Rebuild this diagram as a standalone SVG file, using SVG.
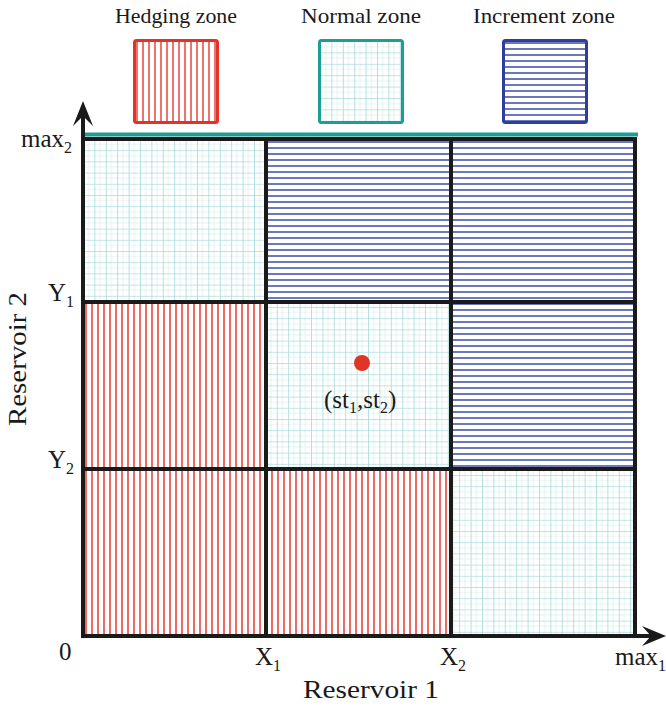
<svg xmlns="http://www.w3.org/2000/svg" width="666" height="706" viewBox="0 0 666 706">
<style>
text{font-family:"Liberation Serif","Times New Roman",serif;fill:#1a1a1a}
.lbl{font-size:25px}
.leg{font-size:21px}
.sub{font-size:16px}
.div{stroke:#1a1a1a;stroke-width:4;fill:none}
.cellb{stroke:#1a9e96;stroke-width:1}
</style>
<defs>
<pattern id="grid" patternUnits="userSpaceOnUse" width="11.4" height="11.2" x="83" y="139">
<rect width="11.4" height="11.2" fill="#fff"/>
<path d="M5.7 0V11.2M0 5.6H11.4" stroke="#e4f3f3" stroke-width="1"/>
<path d="M0 0V11.2M0 0H11.4" stroke="#a9dada" stroke-width="1.6"/>
</pattern>
<pattern id="red" patternUnits="userSpaceOnUse" width="6" height="10" x="83" y="0">
<rect width="6" height="10" fill="#fff"/>
<path d="M3 0V10" stroke="#e8463d" stroke-width="1.6"/>
</pattern>
<pattern id="blue" patternUnits="userSpaceOnUse" width="10" height="6" x="0" y="139">
<rect width="10" height="6" fill="#fff"/>
<path d="M0 3H10" stroke="#4656a8" stroke-width="1.6"/>
</pattern>
<pattern id="redL" patternUnits="userSpaceOnUse" width="6" height="10" x="134" y="0">
<rect width="6" height="10" fill="#fff"/>
<path d="M3 0V10" stroke="#e8463d" stroke-width="1.5"/>
</pattern>
<pattern id="blueL" patternUnits="userSpaceOnUse" width="10" height="6" x="0" y="40">
<rect width="10" height="6" fill="#fff"/>
<path d="M0 3H10" stroke="#4656a8" stroke-width="1.6"/>
</pattern>
<pattern id="gridL" patternUnits="userSpaceOnUse" width="11.4" height="11.4" x="320" y="41">
<rect width="11.4" height="11.4" fill="#fff"/>
<path d="M5.7 0V11.4M0 5.7H11.4" stroke="#e4f3f3" stroke-width="1"/>
<path d="M0 0V11.4M0 0H11.4" stroke="#a9dada" stroke-width="1.6"/>
</pattern>
</defs>

<g id="legend">
<g id="legend-hedging">
<rect x="134.5" y="40.5" width="83" height="82" rx="2" fill="url(#redL)" stroke="#e03428" stroke-width="3"/>
<text class="leg" x="176" y="23" text-anchor="middle" textLength="122" lengthAdjust="spacingAndGlyphs">Hedging zone</text>
</g>
<g id="legend-normal">
<rect x="319.5" y="40.5" width="83" height="82" rx="2" fill="url(#gridL)" stroke="#1a9e96" stroke-width="3"/>
<text class="leg" x="361" y="23" text-anchor="middle" textLength="120" lengthAdjust="spacingAndGlyphs">Normal zone</text>
</g>
<g id="legend-increment">
<rect x="503.5" y="40.5" width="83" height="82" rx="2" fill="url(#blueL)" stroke="#2d3f9c" stroke-width="3"/>
<text class="leg" x="544" y="23" text-anchor="middle" textLength="142" lengthAdjust="spacingAndGlyphs">Increment zone</text>
</g>
</g>

<g id="cells">
<g id="c11"><rect x="83" y="139" width="183" height="163" fill="url(#grid)" class="cellb"/></g>
<g id="c12"><rect x="266" y="139" width="185" height="163" fill="url(#blue)" class="cellb"/></g>
<g id="c13"><rect x="451" y="139" width="184" height="163" fill="url(#blue)" class="cellb"/></g>
<g id="c21"><rect x="83" y="302" width="183" height="167" fill="url(#red)" class="cellb"/></g>
<g id="c22"><rect x="266" y="302" width="185" height="167" fill="url(#grid)" class="cellb"/></g>
<g id="c23"><rect x="451" y="302" width="184" height="167" fill="url(#blue)" class="cellb"/></g>
<g id="c31"><rect x="83" y="469" width="183" height="167" fill="url(#red)" class="cellb"/></g>
<g id="c32"><rect x="266" y="469" width="185" height="167" fill="url(#red)" class="cellb"/></g>
<g id="c33"><rect x="451" y="469" width="184" height="167" fill="url(#grid)" class="cellb"/></g>
</g>

<g id="connectors">
<path class="div" d="M83 139H635V636M266 139V636M451 139V636M83 302H635M83 469H635"/>
<line x1="83" y1="134.5" x2="638" y2="134.5" stroke="#1a9e96" stroke-width="4"/>
<line x1="83" y1="638" x2="83" y2="106" stroke="#1a1a1a" stroke-width="4"/>
<path d="M83 101 L93 126 L83 116 L73 126 Z" fill="#1a1a1a"/>
<line x1="81" y1="636" x2="660" y2="636" stroke="#1a1a1a" stroke-width="4"/>
<path d="M666 636 L642 626 L651 636 L642 646 Z" fill="#1a1a1a"/>
</g>

<g id="point">
<circle cx="362" cy="363" r="8" fill="#e03428"/>
<text class="lbl" x="324" y="408">(st<tspan class="sub" dy="5">1</tspan><tspan dy="-5">,st</tspan><tspan class="sub" dy="5">2</tspan><tspan dy="-5">)</tspan></text>
</g>

<g id="axis-labels">
<text class="lbl" x="21" y="147">max<tspan class="sub" dy="6">2</tspan></text>
<text class="lbl" x="48" y="301">Y<tspan class="sub" dy="6">1</tspan></text>
<text class="lbl" x="48" y="468">Y<tspan class="sub" dy="6">2</tspan></text>
<text class="lbl" x="59" y="660">0</text>
<text class="lbl" x="255" y="665">X<tspan class="sub" dy="6">1</tspan></text>
<text class="lbl" x="440" y="665">X<tspan class="sub" dy="6">2</tspan></text>
<text class="lbl" x="615" y="665">max<tspan class="sub" dy="6">1</tspan></text>
<text class="lbl" x="371" y="698" text-anchor="middle" textLength="136" lengthAdjust="spacingAndGlyphs">Reservoir 1</text>
<text class="lbl" transform="translate(26 359) rotate(-90)" text-anchor="middle" textLength="134" lengthAdjust="spacingAndGlyphs">Reservoir 2</text>
</g>
</svg>
